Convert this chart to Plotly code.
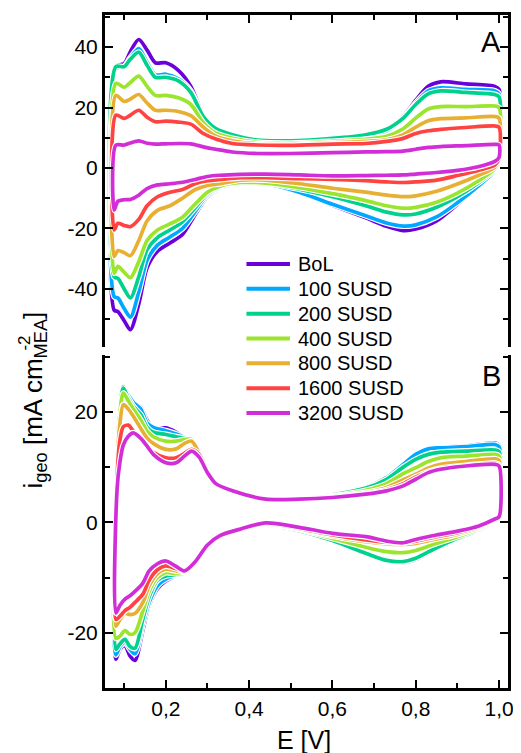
import plotly.graph_objects as go

# ---------------- data ----------------
series_names = ["BoL", "100 SUSD", "200 SUSD", "400 SUSD", "800 SUSD", "1600 SUSD", "3200 SUSD"]
series_colors = ["#6c00da", "#00a9ff", "#00d18c", "#9be52f", "#e8b033", "#ff4242", "#d22ed8"]

# Panel A: anodic (upper) branch potentials and currents
a_e_up = [0.08, 0.10, 0.115, 0.135, 0.155, 0.175, 0.20, 0.23, 0.26, 0.29, 0.32, 0.36, 0.42, 0.50,
          0.60, 0.68, 0.73, 0.77, 0.80, 0.83, 0.86, 0.92, 0.99, 1.0]
a_up_bol = [33.5, 34.5, 38.5, 42.5, 39, 34.8, 34.8, 32.3, 27, 17.5, 13, 10.9, 9, 8.5, 9.3, 10.3, 12.3, 17, 22.4, 27, 28.5, 27.8, 27, 26]
a_up_100 = [33, 33.5, 36.5, 39.5, 35, 30.8, 31, 29.5, 25.5, 17, 12.8, 10.8, 9, 8.6, 9.4, 10.5, 12.3, 16.5, 21.5, 25.5, 26.5, 26, 25.5, 24.5]
a_up_200 = [33.5, 33.5, 36, 38.3, 34, 30, 30, 28.8, 25, 17, 13, 11, 9.2, 9, 9.8, 11, 12.8, 16.5, 21, 24.5, 25.5, 25, 24.3, 23.5]
a_up_400 = [28, 26.7, 28.3, 30.4, 27, 24, 24, 23.2, 21, 15, 11.5, 9.8, 8.5, 8.2, 8.8, 9.5, 10.5, 13, 16.5, 19.5, 20.3, 20.3, 20.5, 20]
a_up_800 = [24, 22, 22.8, 24.3, 21.5, 19.1, 19.1, 18.7, 17.3, 13.5, 10.5, 9, 8, 7.8, 8.3, 8.8, 9.3, 11, 13.5, 15.6, 16.3, 16.6, 17, 16.5]
a_up_1600 = [17.5, 16.4, 17.5, 19.1, 16.8, 15.3, 15.5, 15.2, 14.5, 11.4, 9.6, 8.1, 7.6, 7.5, 7.9, 8.1, 8.8, 9.8, 11.4, 12.3, 12.8, 13.4, 13.9, 13.5]
a_up_3200 = [7.5, 7.6, 8.3, 9, 8.2, 7.9, 8, 8.1, 8, 7.0, 6.2, 5.3, 4.8, 4.8, 5.1, 5.3, 5.4, 5.6, 6.2, 6.8, 7.1, 7.4, 7.8, 7.6]

# Panel A: cathodic (lower) branch
a_e_low = [1.0, 0.99, 0.95, 0.90, 0.85, 0.80, 0.77, 0.73, 0.68, 0.60, 0.52, 0.44, 0.38, 0.33, 0.30,
           0.27, 0.24, 0.21, 0.18, 0.155, 0.135, 0.115, 0.10, 0.085, 0.076]
a_low_bol = [2, -0.7, -6, -12, -17.5, -20.2, -20.7, -19.3, -16.5, -12.3, -8, -5.2, -5, -6.7, -9.5, -15.5, -22, -24.8, -27.5, -33, -45, -53.5, -50.5, -47.5, -47]
a_low_100 = [2, -1, -6, -11.5, -16.2, -18.8, -19.2, -18.2, -15.8, -12, -8, -5.3, -5, -6.5, -9, -14.5, -20, -22.8, -25.5, -30.5, -41, -49.3, -46.5, -43, -42.5]
a_low_200 = [2, -0.5, -5, -9.5, -13, -15.2, -15.5, -14.6, -12.5, -9.5, -7, -5, -4.8, -6.2, -8.5, -13.2, -17.8, -20.5, -23, -27, -36, -43, -40, -36.5, -36]
a_low_400 = [2.3, -0.3, -4.3, -8.3, -11.3, -13, -13.3, -12.5, -10.8, -8.5, -6.5, -5, -4.8, -6, -8, -12, -16.3, -18.5, -20.5, -24, -31, -36.3, -34.5, -32.5, -34.8]
a_low_800 = [2.8, 0.3, -2.5, -5.3, -7.7, -9.2, -9.5, -9, -8, -6.7, -5.2, -4, -4, -5.2, -5.8, -7.2, -10, -12.5, -14, -17.5, -24, -29, -28, -27.3, -29.3]
a_low_1600 = [3, 1, -0.8, -2.5, -4, -4.6, -4.8, -4.6, -4.2, -3.8, -3.5, -3.2, -3.2, -3.8, -4.2, -5.2, -7.1, -8, -9.5, -12.5, -17, -19.4, -19, -18.3, -20.5]
a_low_3200 = [3.5, 2.2, 0.4, -0.8, -1.5, -2, -2.3, -2.4, -2.5, -2.6, -2.3, -2, -2.1, -2.4, -2.8, -3.8, -4.7, -5.2, -5.6, -6.8, -9, -10.4, -10.5, -11, -13.9]

# Panel B: anodic (upper) branch
b_e_up = [0.083, 0.09, 0.098, 0.11, 0.122, 0.14, 0.155, 0.17, 0.20, 0.225, 0.245, 0.262, 0.28, 0.30,
          0.32, 0.36, 0.44, 0.52, 0.60, 0.68, 0.73, 0.77, 0.80, 0.83, 0.86, 0.92, 0.99, 1.0]
b_up_bol = [12, 20, 24, 22.5, 21.6, 20.8, 18.5, 17, 17.1, 16.3, 15.3, 14.5, 12, 9, 7, 5.7, 4.2, 4.3, 4.8, 5.5, 7, 9.8, 12, 13.3, 13.6, 13.8, 14.4, 14]
b_up_100 = [12, 21, 24.6, 23, 21.7, 20.5, 18, 17.2, 16.6, 16, 15.3, 14.5, 12, 9, 7, 5.7, 4.2, 4.4, 5, 6.3, 8.1, 10.5, 12.3, 13.3, 13.5, 13.7, 14.1, 13.7]
b_up_200 = [12, 21, 24.3, 22.5, 21, 19.5, 17.2, 16.3, 15.9, 15.5, 15.2, 14.8, 12, 9, 7, 5.7, 4.2, 4.4, 5, 6.2, 7.8, 10, 11.4, 12.3, 12.7, 12.9, 13.1, 12.8]
b_up_400 = [11, 20, 23.4, 22, 20.5, 18.5, 16.5, 15.5, 14.7, 14.7, 15, 15, 12.3, 9, 7, 5.7, 4.2, 4.3, 4.8, 5.8, 7, 8.8, 9.9, 11, 11.7, 12, 12.3, 12]
b_up_800 = [10, 18, 21.3, 20.5, 19.2, 17, 15.3, 14.3, 13.2, 13.3, 14.3, 14.7, 12.5, 9.2, 7, 5.7, 4.2, 4.3, 4.7, 5.4, 6.3, 7.7, 8.7, 9.8, 10.5, 11, 11.5, 11.2]
b_up_1600 = [8, 15, 17.3, 17.6, 16.5, 15, 13.8, 12.7, 11.7, 11.7, 12.5, 13.2, 12.3, 9.2, 7, 5.7, 4.2, 4.2, 4.6, 5.2, 5.9, 7, 8.2, 9.2, 9.8, 10.3, 10.7, 10.4]
b_up_3200 = [6, 11, 14, 15.6, 16.2, 15.2, 13.8, 12.3, 10.8, 10.8, 12, 12.9, 11.8, 9, 7, 5.7, 4.2, 4.2, 4.5, 5.1, 5.7, 6.6, 7.8, 9, 9.6, 10.2, 10.5, 10.2]

# Panel B: cathodic (lower) branch
b_e_low = [1.0, 0.99, 0.95, 0.90, 0.85, 0.80, 0.77, 0.73, 0.68, 0.60, 0.52, 0.44, 0.38, 0.33, 0.30,
           0.27, 0.245, 0.225, 0.20, 0.18, 0.16, 0.145, 0.126, 0.114, 0.102, 0.09, 0.08]
b_low_bol = [1.0, 0.3, -1.5, -3, -4.8, -6.7, -7.3, -6.9, -5.6, -3.3, -1.4, -0.4, -1.5, -2.6, -4.3, -7.5, -9.3, -9.7, -10.6, -12, -15, -19.5, -25, -24.2, -22.3, -23, -24.8]
b_low_100 = [1.0, 0.3, -1.5, -3, -4.7, -6.5, -7.1, -6.8, -5.5, -3.2, -1.4, -0.4, -1.5, -2.6, -4.3, -7.5, -9.3, -9.6, -10.3, -11.5, -14.5, -18.5, -23.8, -23, -21.7, -22.5, -24]
b_low_200 = [1.0, 0.3, -1.4, -2.9, -4.6, -6.5, -7.1, -6.9, -5.6, -3.3, -1.5, -0.5, -1.5, -2.6, -4.3, -7.5, -9.3, -9.5, -9.7, -10.5, -13.5, -17.5, -22.8, -22.5, -21.2, -22, -23]
b_low_400 = [1.0, 0.4, -1.2, -2.6, -3.8, -5.1, -5.5, -5.3, -4.5, -2.9, -1.3, -0.4, -1.5, -2.6, -4.3, -7.5, -9.2, -9.3, -9.1, -10, -12.5, -16, -20, -20.3, -19.6, -20.6, -21]
b_low_800 = [1.0, 0.5, -1, -2.2, -3, -3.8, -4, -3.9, -3.5, -2.5, -1.2, -0.3, -1.4, -2.5, -4.2, -7.4, -9, -8.8, -8.5, -9.3, -11.5, -14.5, -16.5, -16.7, -16.5, -17.6, -18.8]
b_low_1600 = [1.0, 0.6, -0.8, -1.9, -2.6, -3.4, -3.7, -3.6, -3.2, -2.3, -1.1, -0.2, -1.3, -2.5, -4.2, -7.3, -8.9, -8.4, -7.9, -8.6, -10.5, -13, -14.5, -15.4, -16, -17, -17.6]
b_low_3200 = [1.0, 0.6, -0.7, -1.6, -2.3, -3.1, -3.7, -3.4, -2.6, -2.0, -0.9, -0.1, -1.2, -2.4, -4.1, -7.2, -8.8, -8, -7, -7.5, -8.8, -11, -12.5, -13.3, -13.9, -15, -16.4]

a_upper = [a_up_bol, a_up_100, a_up_200, a_up_400, a_up_800, a_up_1600, a_up_3200]
a_lower = [a_low_bol, a_low_100, a_low_200, a_low_400, a_low_800, a_low_1600, a_low_3200]
b_upper = [b_up_bol, b_up_100, b_up_200, b_up_400, b_up_800, b_up_1600, b_up_3200]
b_lower = [b_low_bol, b_low_100, b_low_200, b_low_400, b_low_800, b_low_1600, b_low_3200]

x_ticks = [0.2, 0.4, 0.6, 0.8, 1.0]
a_y_ticks = [-40, -20, 0, 20, 40]
a_y_ticktext = ["-40", "-20", "0", "20", "40"]
b_y_ticks = [-20, 0, 20]
b_y_ticktext = ["-20", "0", "20"]

# ---------------- figure ----------------
FONT = "Liberation Sans, Arial, sans-serif"
fig = go.Figure()


def add_loop(e_up, up, e_low, low, name, color, xa, ya):
    xs = [e_low[-1]] + e_up + e_low
    ys = [low[-1]] + up + low
    fig.add_trace(go.Scatter(x=xs, y=ys, mode="lines", xaxis=xa, yaxis=ya, showlegend=False,
                             hoverinfo="skip",
                             line=dict(color="white", width=6, shape="spline", smoothing=0.8)))
    fig.add_trace(go.Scatter(x=xs, y=ys, mode="lines", xaxis=xa, yaxis=ya, name=name,
                             showlegend=False,
                             line=dict(color=color, width=3.7, shape="spline", smoothing=0.8)))


for i, (nm, col) in enumerate(zip(series_names, series_colors)):
    add_loop(a_e_up, a_upper[i], a_e_low, a_lower[i], nm, col, "x2", "y2")
for i, (nm, col) in enumerate(zip(series_names, series_colors)):
    add_loop(b_e_up, b_upper[i], b_e_low, b_lower[i], nm, col, "x", "y")

# legend drawn as paper-anchored samples + labels
shapes = []
annotations = []
leg_top = 0.630       # paper y of first row
leg_step = 0.0369     # row spacing in paper units
for i, (nm, col) in enumerate(zip(series_names, series_colors)):
    yy = leg_top - i * leg_step
    shapes.append(dict(type="line", xref="paper", yref="paper", x0=0.351, x1=0.459, y0=yy, y1=yy,
                       line=dict(color=col, width=4)))
    annotations.append(dict(text=nm, xref="paper", yref="paper", x=0.474, y=yy, xanchor="left",
                            yanchor="middle", showarrow=False,
                            font=dict(family=FONT, size=20, color="black")))

xr = [0.054, 1.0215]
common_ax = dict(showgrid=False, zeroline=False, showline=True, linecolor="black", linewidth=3,
                 ticks="inside", ticklen=8, tickwidth=2, tickcolor="black",
                 tickfont=dict(family=FONT, size=21, color="black"))
minor_x = dict(dtick=0.1, tick0=0.1, ticks="inside", ticklen=5, tickwidth=2, tickcolor="black")
minor_y = dict(dtick=10, tick0=0, ticks="inside", ticklen=5, tickwidth=2, tickcolor="black")

annotations += [
    dict(text="A", xref="paper", yref="paper", x=0.958, y=0.960, xanchor="center", yanchor="middle",
         showarrow=False, font=dict(family=FONT, size=29, color="black")),
    dict(text="B", xref="paper", yref="paper", x=0.958, y=0.464, xanchor="center", yanchor="middle",
         showarrow=False, font=dict(family=FONT, size=29, color="black")),
    dict(text="E [V]", xref="paper", yref="paper", x=0.494, y=-0.077, xanchor="center", yanchor="middle",
         showarrow=False, font=dict(family=FONT, size=25, color="black")),
    dict(text="i<sub>geo</sub> [mA cm<sub>MEA</sub>]", xref="paper", yref="paper",
         x=-0.175, y=0.428, xanchor="center", yanchor="middle", textangle=-90,
         showarrow=False, font=dict(family=FONT, size=26, color="black")),
    dict(text="-2", xref="paper", yref="paper",
         x=-0.199, y=0.513, xanchor="center", yanchor="middle", textangle=-90,
         showarrow=False, font=dict(family=FONT, size=17, color="black")),
]

# the page adds an 8 px body margin, so the figure is shifted by 8 px
fig.update_layout(
    width=513, height=745,
    margin=dict(l=97, r=11, t=7, b=65),
    paper_bgcolor="white", plot_bgcolor="white",
    separators=",.",
    showlegend=False,
    font=dict(family=FONT, color="black"),
    xaxis=dict(range=xr, domain=[0, 1], anchor="y", side="bottom", mirror=False,
               tickvals=x_ticks, tickformat=".1f", minor=minor_x, **common_ax),
    yaxis=dict(range=[-30, 30.3], domain=[0, 0.4948], anchor="x", mirror="allticks",
               tickvals=b_y_ticks, ticktext=b_y_ticktext, minor=minor_y, **common_ax),
    xaxis2=dict(range=xr, domain=[0, 1], anchor="y2", side="top", mirror=False,
                tickvals=x_ticks, showticklabels=False, minor=minor_x, **common_ax),
    yaxis2=dict(range=[-59.2, 50.6], domain=[0.5067, 1], anchor="x2", mirror="allticks",
                tickvals=a_y_ticks, ticktext=a_y_ticktext, minor=minor_y, **common_ax),
    shapes=shapes,
    annotations=annotations,
)

fig.write_html("out.html")
